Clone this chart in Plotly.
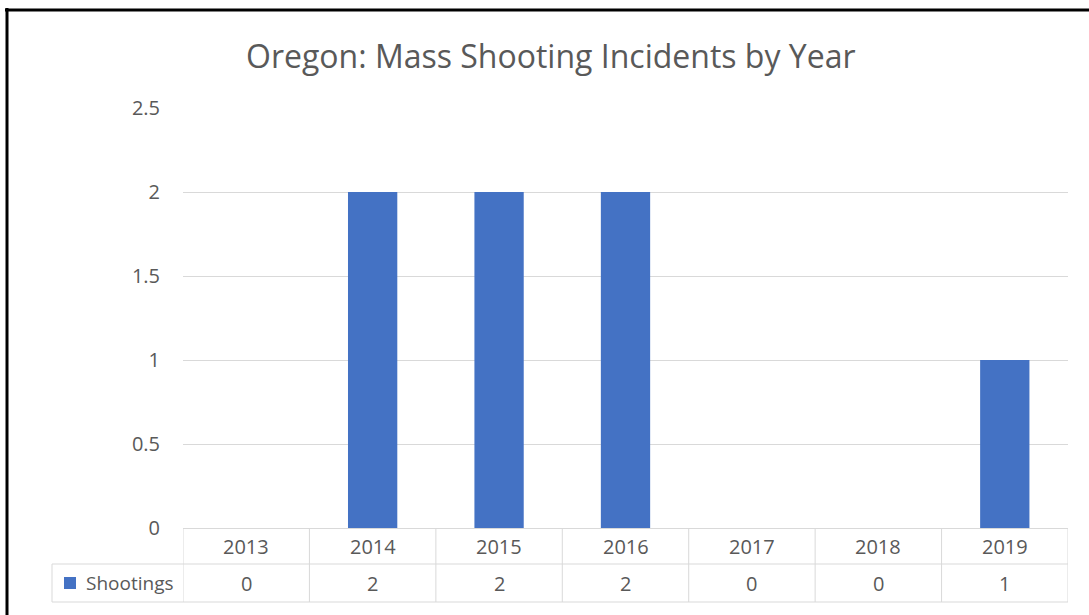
import plotly.graph_objects as go

# ---- data ----
years = ["2013", "2014", "2015", "2016", "2017", "2018", "2019"]
shootings = [0, 2, 2, 2, 0, 0, 1]
series_name = "Shootings"
title_text = "Oregon: Mass Shooting Incidents by Year"
y_ticks = [0, 0.5, 1, 1.5, 2, 2.5]
y_tick_labels = ["0", "0.5", "1", "1.5", "2", "2.5"]

W, H = 1089, 615
L, R, T, B = 183, 21, 108, 87
PW, PH = W - L - R, H - T - B

def px(xpix):
    return (xpix - L) / PW

def py(ypix):
    return (H - B - ypix) / PH

FONT = "Open Sans"
TXT = "#595959"
GRID = "#d9d9d9"
BLUE = "#4472C4"

fig = go.Figure()
fig.add_trace(go.Bar(x=list(range(len(years))), y=shootings, name=series_name,
                     marker=dict(color=BLUE, line=dict(width=0)),
                     showlegend=False, hoverinfo="skip"))

shapes = []
annotations = []

# table grid
row1 = py(564)
row2 = py(602)
left_cell = px(52)
for i in range(len(years) + 1):
    shapes.append(dict(type="line", xref="x", yref="paper",
                       x0=i - 0.5, x1=i - 0.5, y0=0, y1=row2,
                       line=dict(color=GRID, width=1)))
shapes.append(dict(type="line", xref="paper", yref="paper",
                   x0=left_cell, x1=1, y0=row1, y1=row1,
                   line=dict(color=GRID, width=1)))
shapes.append(dict(type="line", xref="paper", yref="paper",
                   x0=left_cell, x1=1, y0=row2, y1=row2,
                   line=dict(color=GRID, width=1)))
shapes.append(dict(type="line", xref="paper", yref="paper",
                   x0=left_cell, x1=left_cell, y0=row1, y1=row2,
                   line=dict(color=GRID, width=1)))
# legend key square
shapes.append(dict(type="rect", xref="paper", yref="paper",
                   x0=px(64), x1=px(76), y0=py(589), y1=py(577),
                   fillcolor=BLUE, line=dict(width=0)))
# outer black border (top and left)
shapes.append(dict(type="line", xref="paper", yref="paper",
                   x0=px(5), x1=px(W + 5), y0=py(10), y1=py(10),
                   line=dict(color="black", width=3)))
shapes.append(dict(type="line", xref="paper", yref="paper",
                   x0=px(7), x1=px(7), y0=py(8), y1=py(H + 5),
                   line=dict(color="black", width=3)))

for i, (yr, v) in enumerate(zip(years, shootings)):
    annotations.append(dict(x=i, y=py(546), xref="x", yref="paper",
                            text=yr, showarrow=False,
                            xanchor="center", yanchor="middle",
                            font=dict(family=FONT, size=20, color=TXT)))
    annotations.append(dict(x=i, y=py(583), xref="x", yref="paper",
                            text=str(v), showarrow=False,
                            xanchor="center", yanchor="middle",
                            font=dict(family=FONT, size=20, color=TXT)))

annotations.append(dict(x=px(176), y=py(583), xref="paper", yref="paper",
                        text=series_name, showarrow=False,
                        xanchor="right", yanchor="middle",
                        font=dict(family=FONT, size=19, color=TXT)))

annotations.append(dict(x=px(551), y=py(55), xref="paper", yref="paper",
                        text=title_text, showarrow=False,
                        xanchor="center", yanchor="middle",
                        font=dict(family=FONT, size=32, color=TXT)))

fig.update_layout(
    width=W, height=H,
    margin=dict(l=L, r=R, t=T, b=B, autoexpand=False),
    paper_bgcolor="white", plot_bgcolor="white",
    bargap=0.61,
    shapes=shapes, annotations=annotations,
    xaxis=dict(showticklabels=False, showgrid=False,
               zeroline=False, showline=False, ticks="",
               range=[-0.5, len(years) - 0.5], fixedrange=True),
    yaxis=dict(range=[0, 2.5], tickvals=y_ticks, ticktext=y_tick_labels,
               showgrid=True, gridcolor=GRID, gridwidth=1,
               zeroline=True, zerolinecolor=GRID, zerolinewidth=1,
               showline=False, ticks="", ticklabelstandoff=22,
               tickfont=dict(family=FONT, size=20, color=TXT),
               fixedrange=True),
)

fig.write_html("out.html",
               config={"displayModeBar": False},
               post_script="document.body.style.margin='0';"
                           "document.body.style.overflow='hidden';")
